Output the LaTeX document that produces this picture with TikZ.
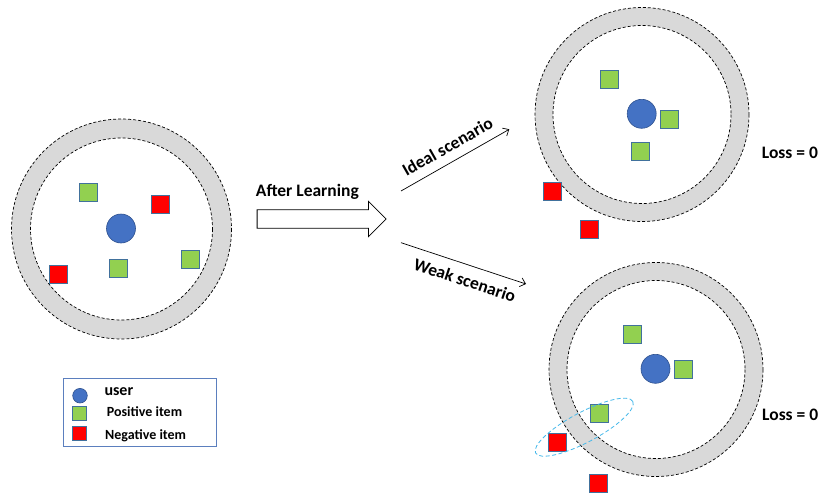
\documentclass[tikz,border=0pt]{standalone}
\usepackage{fontspec}
\setmainfont{Carlito}
\usetikzlibrary{arrows.meta,shapes.geometric,shapes.arrows}
\definecolor{userblue}{HTML}{4472C4}
\definecolor{userline}{HTML}{2F528F}
\definecolor{posgreen}{HTML}{92D050}
\definecolor{negred}{HTML}{FF0000}
\definecolor{itemline}{HTML}{41719C}
\definecolor{ringgray}{HTML}{D9D9D9}
\definecolor{pairblue}{HTML}{45B8EA}
\definecolor{legendline}{HTML}{5B7FBE}
\begin{document}
\begin{tikzpicture}[x=1pt,y=-1pt,
  user/.style={circle, fill=userblue, draw=userline, line width=0.6pt, minimum size=29pt, inner sep=0pt},
  posbox/.style={rectangle, fill=posgreen, draw=itemline, line width=0.8pt, minimum size=18pt, inner sep=0pt},
  negbox/.style={rectangle, fill=negred, draw=itemline, line width=0.8pt, minimum size=18pt, inner sep=0pt},
  ringfill/.style={fill=ringgray, even odd rule},
  ringline/.style={draw=black, line width=0.7pt, dash pattern=on 3pt off 2pt},
  bigtext/.style={font=\fontsize{17.5}{20}\selectfont\bfseries, inner sep=0pt},
  keytext/.style={font=\fontsize{14}{16}\selectfont\bfseries, inner sep=0pt, anchor=base west},
  thinarrow/.style={draw=black, line width=0.7pt, -{Straight Barb[length=5pt,width=9pt]}},
  bigarrow/.style={single arrow, draw=black, line width=0.8pt, fill=white, inner xsep=0pt, inner ysep=8.85pt, single arrow head extend=8.3pt, minimum height=129pt},
  pairmark/.style={ellipse, draw=pairblue, line width=0.8pt, dash pattern=on 4pt off 2.5pt, minimum width=110pt, minimum height=30pt, inner sep=0pt}]
\useasboundingbox (0,0) rectangle (822,493);

% ring centres
\coordinate (cL) at (121.5,229);
\coordinate (cI) at (642,114.5);
\coordinate (cW) at (656,369.5);

% rings
\fill[ringfill] (cL) circle [radius=110] (cL) circle [radius=91];
\draw[ringline] (cL) circle [radius=110] (cL) circle [radius=91];
\fill[ringfill] (cI) circle [radius=107] (cI) circle [radius=89];
\draw[ringline] (cI) circle [radius=107] (cI) circle [radius=89];
\fill[ringfill] (cW) circle [radius=107] (cW) circle [radius=89];
\draw[ringline] (cW) circle [radius=107] (cW) circle [radius=89];

% before learning
\node[user] (u0) at (121,228.5) {};
\node[posbox] (p01) at (88.2,192.5) {};
\node[posbox] (p02) at (190.8,259.7) {};
\node[posbox] (p03) at (118.5,268) {};
\node[negbox] (n01) at (160,204.3) {};
\node[negbox] (n02) at (58.5,274.7) {};

% ideal scenario
\node[user] (u1) at (641.7,113.8) {};
\node[posbox] (p11) at (609.5,79) {};
\node[posbox] (p12) at (669.2,119.7) {};
\node[posbox] (p13) at (640.8,151.8) {};
\node[negbox] (n11) at (552.5,191.3) {};
\node[negbox] (n12) at (589.8,229.7) {};

% weak scenario
\node[user] (u2) at (655.5,368.8) {};
\node[posbox] (p21) at (632.5,334.7) {};
\node[posbox] (p22) at (683.3,369.5) {};
\node[posbox] (p23) at (599.8,413) {};
\node[negbox] (n21) at (557.5,442.8) {};
\node[negbox] (n22) at (598.2,483) {};
\node[pairmark, rotate=28] (pair) at (584.2,427.2) {};

% arrows
\node[bigarrow] (learn) at (317,219) {};
\node[bigtext, anchor=base west] (learnlbl) at (255.7,196.7) {After Learning};
\coordinate (i1) at (401,191);
\coordinate (i2) at (509.3,129.3);
\coordinate (w1) at (401,242.7);
\coordinate (w2) at (526,284);
\draw[thinarrow] (i1) -- node[bigtext, sloped, above=9pt, pos=0.5] (ideal) {Ideal scenario} (i2);
\draw[thinarrow] (w1) -- node[bigtext, sloped, below=9pt, pos=0.55] (weak) {Weak scenario} (w2);

\node[bigtext, anchor=base west] (loss1) at (761.7,158.3) {Loss = 0};
\node[bigtext, anchor=base west] (loss2) at (762,420) {Loss = 0};

% legend
\draw[legendline, line width=0.8pt] (63.3,378.3) rectangle (216.7,446.7);
\node[user, minimum size=14.6pt] (ku) at (80,395.7) {};
\node[posbox, minimum size=14.3pt] (kp) at (79.5,413.3) {};
\node[negbox, minimum size=14.3pt] (kn) at (79.5,433.5) {};
\node[keytext, font=\fontsize{16}{18}\selectfont\bfseries] (kut) at (104.3,395) {user};
\node[keytext] (kpt) at (106.7,416.7) {Positive item};
\node[keytext] (knt) at (105,439.3) {Negative item};
\end{tikzpicture}
\end{document}
